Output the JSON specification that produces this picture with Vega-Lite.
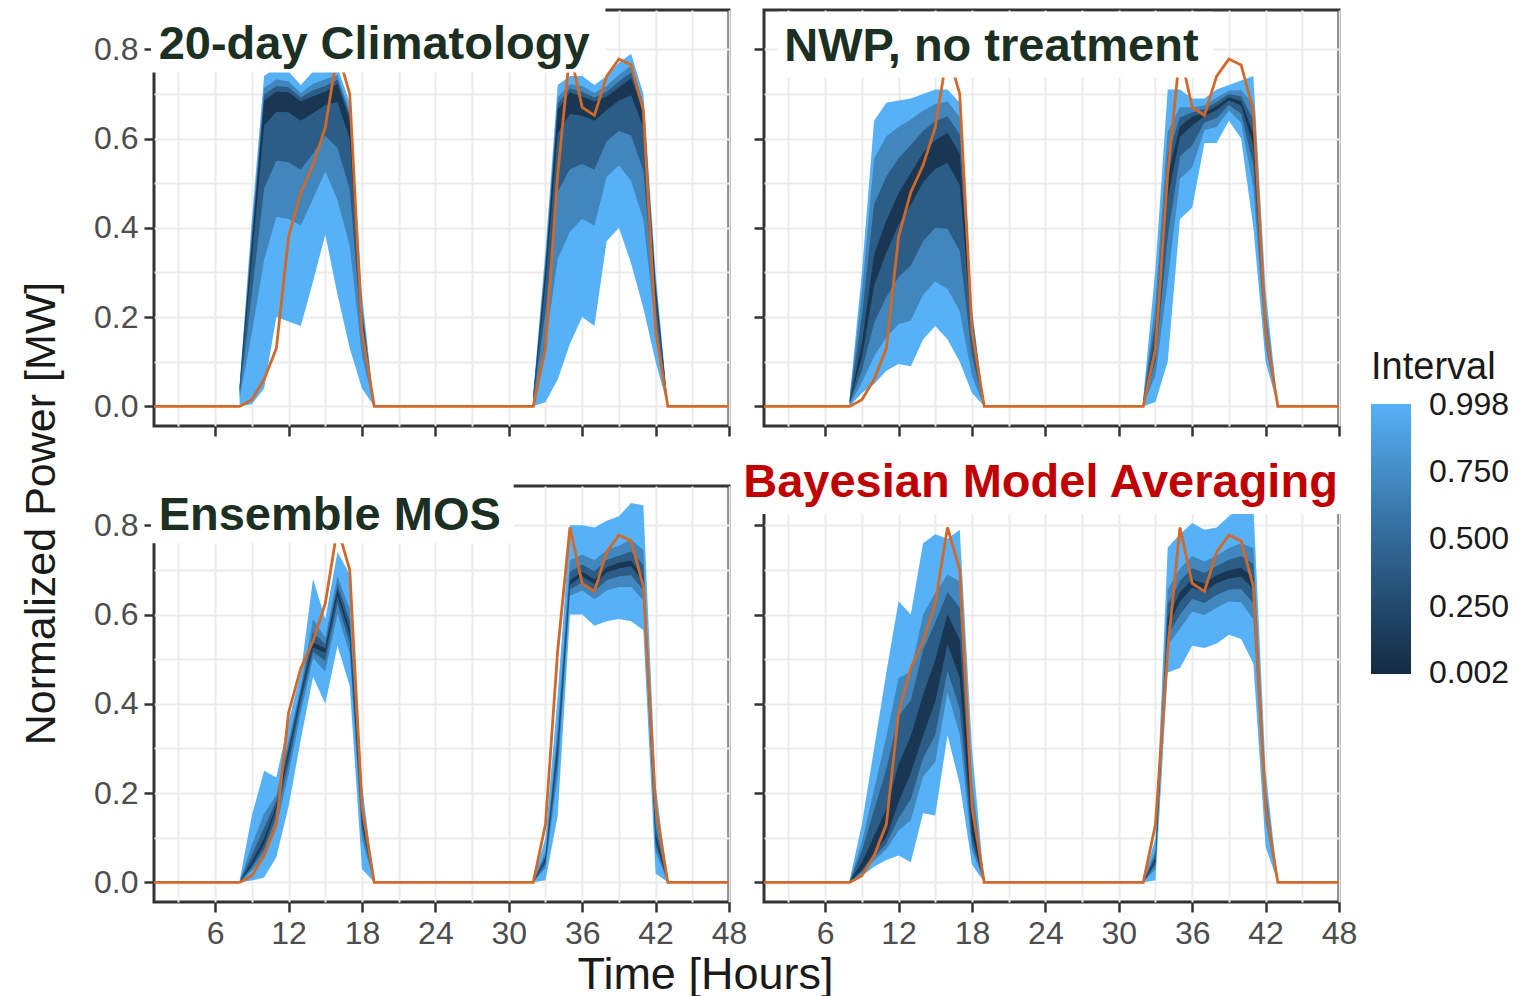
{
 "$schema": "https://vega.github.io/schema/vega-lite/v6.json",
 "background": "white",
 "padding": {"left": 18, "top": 4, "right": 5, "bottom": 5},
 "datasets": {
  "bands": [
   {"p":"A","L":0.998,"d":1,"h":[8,9,10,11,12,13,14,15,16,17,18,19],"lo":[0,0.005,0.04,0.2,0.19,0.18,0.28,0.385,0.25,0.13,0.04,0],"hi":[0.05,0.42,0.74,0.76,0.75,0.72,0.75,0.76,0.76,0.68,0.25,0]},
   {"p":"A","L":0.998,"d":2,"h":[32,33,34,35,36,37,38,39,40,41,42,43],"lo":[0,0.01,0.06,0.14,0.2,0.18,0.37,0.4,0.32,0.22,0.1,0],"hi":[0.03,0.35,0.72,0.74,0.74,0.72,0.74,0.77,0.79,0.7,0.3,0]},
   {"p":"A","L":0.7,"d":1,"h":[8,9,10,11,12,13,14,15,16,17,18,19],"lo":[0.018,0.165,0.328,0.425,0.42,0.405,0.465,0.527,0.462,0.36,0.112,0],"hi":[0.046,0.393,0.713,0.733,0.728,0.702,0.723,0.733,0.742,0.662,0.228,0]},
   {"p":"A","L":0.7,"d":2,"h":[32,33,34,35,36,37,38,39,40,41,42,43],"lo":[0.009,0.14,0.33,0.392,0.42,0.405,0.514,0.54,0.505,0.418,0.172,0],"hi":[0.026,0.328,0.693,0.722,0.718,0.702,0.718,0.743,0.763,0.682,0.282,0]},
   {"p":"A","L":0.4,"d":1,"h":[8,9,10,11,12,13,14,15,16,17,18,19],"lo":[0.028,0.253,0.488,0.55,0.547,0.53,0.567,0.606,0.579,0.487,0.152,0],"hi":[0.043,0.378,0.698,0.718,0.715,0.692,0.708,0.718,0.732,0.652,0.215,0]},
   {"p":"A","L":0.4,"d":2,"h":[32,33,34,35,36,37,38,39,40,41,42,43],"lo":[0.014,0.213,0.48,0.532,0.543,0.53,0.594,0.617,0.607,0.528,0.212,0],"hi":[0.023,0.315,0.678,0.712,0.705,0.692,0.705,0.728,0.748,0.672,0.272,0]},
   {"p":"A","L":0.1,"d":1,"h":[8,9,10,11,12,13,14,15,16,17,18,19],"lo":[0.037,0.332,0.629,0.66,0.659,0.64,0.657,0.675,0.682,0.599,0.187,0],"hi":[0.041,0.365,0.685,0.705,0.704,0.683,0.695,0.705,0.723,0.643,0.204,0]},
   {"p":"A","L":0.1,"d":2,"h":[32,33,34,35,36,37,38,39,40,41,42,43],"lo":[0.018,0.277,0.612,0.655,0.651,0.64,0.664,0.685,0.697,0.625,0.247,0],"hi":[0.021,0.304,0.665,0.703,0.694,0.683,0.694,0.715,0.735,0.663,0.263,0]},

   {"p":"B","L":0.998,"d":1,"h":[8,9,10,11,12,13,14,15,16,17,18,19],"lo":[0,0.03,0.05,0.08,0.095,0.09,0.15,0.18,0.15,0.1,0.03,0],"hi":[0.02,0.3,0.64,0.68,0.685,0.69,0.7,0.71,0.71,0.68,0.22,0]},
   {"p":"B","L":0.998,"d":2,"h":[32,33,34,35,36,37,38,39,40,41,42,43],"lo":[0,0.01,0.1,0.42,0.445,0.59,0.59,0.64,0.6,0.4,0.1,0],"hi":[0.02,0.31,0.71,0.71,0.69,0.69,0.71,0.72,0.73,0.74,0.26,0]},
   {"p":"B","L":0.7,"d":1,"h":[8,9,10,11,12,13,14,15,16,17,18,19],"lo":[0.003,0.053,0.1125,0.155,0.184,0.1925,0.25,0.28,0.263,0.213,0.068,0],"hi":[0.018,0.255,0.555,0.605,0.626,0.6425,0.6625,0.6775,0.683,0.648,0.21,0]},
   {"p":"B","L":0.7,"d":2,"h":[32,33,34,35,36,37,38,39,40,41,42,43],"lo":[0.005,0.069,0.28,0.51,0.535,0.619,0.626,0.663,0.636,0.49,0.132,0],"hi":[0.016,0.234,0.616,0.67,0.67,0.674,0.692,0.707,0.708,0.677,0.22,0]},
   {"p":"B","L":0.4,"d":1,"h":[8,9,10,11,12,13,14,15,16,17,18,19],"lo":[0.006,0.08,0.1875,0.245,0.29,0.3155,0.37,0.4,0.398,0.348,0.113,0],"hi":[0.015,0.201,0.453,0.515,0.556,0.5855,0.6175,0.6385,0.65,0.609,0.198,0]},
   {"p":"B","L":0.4,"d":2,"h":[32,33,34,35,36,37,38,39,40,41,42,43],"lo":[0.007,0.101,0.38,0.56,0.585,0.636,0.646,0.675,0.656,0.54,0.149,0],"hi":[0.013,0.191,0.563,0.647,0.659,0.666,0.682,0.699,0.695,0.642,0.197,0]},
   {"p":"B","L":0.1,"d":1,"h":[8,9,10,11,12,13,14,15,16,17,18,19],"lo":[0.009,0.109,0.27,0.344,0.407,0.451,0.502,0.532,0.546,0.496,0.162,0],"hi":[0.011,0.142,0.341,0.416,0.478,0.523,0.568,0.596,0.613,0.566,0.185,0]},
   {"p":"B","L":0.1,"d":2,"h":[32,33,34,35,36,37,38,39,40,41,42,43],"lo":[0.009,0.13,0.468,0.604,0.629,0.65,0.664,0.686,0.674,0.584,0.164,0],"hi":[0.011,0.154,0.517,0.627,0.649,0.658,0.673,0.692,0.684,0.611,0.177,0]},

   {"p":"C","L":0.998,"d":1,"h":[8,9,10,11,12,13,14,15,16,17,18,19],"lo":[0,0.004,0.011,0.056,0.17,0.32,0.46,0.4,0.53,0.44,0.03,0],"hi":[0.005,0.15,0.25,0.235,0.36,0.47,0.68,0.59,0.74,0.69,0.22,0]},
   {"p":"C","L":0.998,"d":2,"h":[32,33,34,35,36,37,38,39,40,41,42,43],"lo":[0,0.005,0.15,0.6,0.6,0.575,0.585,0.59,0.585,0.565,0.02,0],"hi":[0.005,0.1,0.42,0.8,0.8,0.795,0.81,0.82,0.85,0.845,0.22,0]},
   {"p":"C","L":0.7,"d":1,"h":[8,9,10,11,12,13,14,15,16,17,18,19],"lo":[0,0.026,0.058,0.124,0.242,0.38,0.502,0.472,0.602,0.512,0.096,0],"hi":[0.002,0.084,0.154,0.196,0.318,0.44,0.59,0.548,0.686,0.612,0.172,0]},
   {"p":"C","L":0.7,"d":2,"h":[32,33,34,35,36,37,38,39,40,41,42,43],"lo":[0,0.032,0.24,0.642,0.654,0.634,0.654,0.662,0.662,0.632,0.068,0],"hi":[0.002,0.07,0.348,0.722,0.734,0.722,0.744,0.754,0.768,0.744,0.148,0]},
   {"p":"C","L":0.4,"d":1,"h":[8,9,10,11,12,13,14,15,16,17,18,19],"lo":[0,0.033,0.074,0.147,0.266,0.4,0.516,0.496,0.626,0.536,0.118,0],"hi":[0.001,0.062,0.122,0.183,0.304,0.43,0.56,0.534,0.668,0.586,0.156,0]},
   {"p":"C","L":0.4,"d":2,"h":[32,33,34,35,36,37,38,39,40,41,42,43],"lo":[0,0.041,0.27,0.656,0.672,0.653,0.677,0.686,0.688,0.655,0.084,0],"hi":[0.001,0.06,0.324,0.696,0.712,0.697,0.722,0.732,0.741,0.711,0.124,0]},
   {"p":"C","L":0.1,"d":1,"h":[8,9,10,11,12,13,14,15,16,17,18,19],"lo":[0,0.038,0.086,0.164,0.284,0.415,0.527,0.514,0.644,0.554,0.135,0],"hi":[0.0005,0.046,0.098,0.173,0.294,0.423,0.538,0.524,0.655,0.567,0.144,0]},
   {"p":"C","L":0.1,"d":2,"h":[32,33,34,35,36,37,38,39,40,41,42,43],"lo":[0,0.048,0.293,0.667,0.686,0.668,0.694,0.704,0.708,0.671,0.096,0],"hi":[0.0005,0.053,0.306,0.677,0.696,0.679,0.706,0.716,0.721,0.685,0.106,0]},

   {"p":"D","L":0.998,"d":1,"h":[8,9,10,11,12,13,14,15,16,17,18,19],"lo":[0,0.015,0.035,0.05,0.06,0.045,0.155,0.15,0.33,0.22,0.04,0],"hi":[0.005,0.13,0.3,0.47,0.63,0.6,0.76,0.78,0.77,0.79,0.3,0]},
   {"p":"D","L":0.998,"d":2,"h":[32,33,34,35,36,37,38,39,40,41,42,43],"lo":[0,0.005,0.47,0.48,0.53,0.525,0.535,0.555,0.545,0.49,0.08,0],"hi":[0.005,0.1,0.75,0.78,0.805,0.79,0.795,0.82,0.84,0.845,0.25,0]},
   {"p":"D","L":0.7,"d":1,"h":[8,9,10,11,12,13,14,15,16,17,18,19],"lo":[0,0.021,0.049,0.074,0.116,0.139,0.237,0.27,0.426,0.332,0.072,0],"hi":[0.003,0.09,0.208,0.326,0.458,0.472,0.6,0.648,0.69,0.674,0.228,0]},
   {"p":"D","L":0.7,"d":2,"h":[32,33,34,35,36,37,38,39,40,41,42,43],"lo":[0,0.03,0.5305,0.568,0.607,0.599,0.615,0.629,0.6275,0.589,0.135,0],"hi":[0.002,0.0725,0.6565,0.703,0.731,0.719,0.732,0.749,0.76,0.749,0.2115,0]},
   {"p":"D","L":0.4,"d":1,"h":[8,9,10,11,12,13,14,15,16,17,18,19],"lo":[0,0.024,0.056,0.086,0.144,0.186,0.278,0.33,0.474,0.388,0.088,0],"hi":[0.002,0.07,0.162,0.254,0.372,0.408,0.52,0.582,0.65,0.616,0.192,0]},
   {"p":"D","L":0.4,"d":2,"h":[32,33,34,35,36,37,38,39,40,41,42,43],"lo":[0,0.039,0.5525,0.6,0.635,0.626,0.644,0.656,0.6575,0.625,0.155,0],"hi":[0.001,0.0625,0.6225,0.675,0.704,0.693,0.709,0.723,0.731,0.714,0.1975,0]},
   {"p":"D","L":0.1,"d":1,"h":[8,9,10,11,12,13,14,15,16,17,18,19],"lo":[0,0.028,0.065,0.101,0.179,0.245,0.329,0.405,0.534,0.458,0.108,0],"hi":[0.001,0.045,0.1045,0.164,0.2645,0.328,0.42,0.4995,0.6,0.5435,0.147,0]},
   {"p":"D","L":0.1,"d":2,"h":[32,33,34,35,36,37,38,39,40,41,42,43],"lo":[0,0.047,0.572,0.629,0.66,0.651,0.67,0.681,0.6845,0.657,0.173,0],"hi":[0.0004,0.0535,0.592,0.65,0.679,0.669,0.688,0.699,0.705,0.682,0.185,0]}
  ],
  "obs": [
   {"h":[1,8,9,10,11,12,13,14,15,16,17,18,19,32,33,34,35,36,37,38,39,40,41,42,43,48],"v":[0,0,0.015,0.06,0.13,0.38,0.48,0.54,0.625,0.795,0.7,0.17,0,0,0.13,0.52,0.795,0.67,0.652,0.74,0.778,0.765,0.663,0.17,0,0]}
  ],
  "one": [{}]
 },
 "columns": 2,
 "spacing": {"row": 60, "column": 35},
 "bounds": "flush",
 "concat": [
  {
   "width": 575, "height": 416,
   "layer": [
    {"data": {"name": "bands"},
     "transform": [{"filter": "datum.p === 'A'"}, {"flatten": ["h", "lo", "hi"]}],
     "mark": {"type": "area", "clip": true},
     "encoding": {
      "x": {"field": "h", "type": "quantitative", "scale": {"domain": [1, 48], "nice": false, "zero": false},
            "axis": {"orient": "bottom", "values": [3,6,9,12,15,18,21,24,27,30,33,36,39,42,45,48], "labels": false, "title": null, "tickOpacity": {"condition": {"test": "datum.value % 6 === 0", "value": 1}, "value": 0}}},
      "y": {"field": "lo", "type": "quantitative", "scale": {"domain": [-0.044, 0.888], "nice": false, "zero": false},
            "axis": {"orient": "left", "values": [0,0.1,0.2,0.3,0.4,0.5,0.6,0.7,0.8], "labelExpr": "round(datum.value*10) % 2 === 0 ? format(datum.value, '.1f') : ''", "tickOpacity": {"condition": {"test": "round(datum.value*10) % 2 === 0", "value": 1}, "value": 0}, "title": "Normalized Power [MW]", "titleFontSize": 43, "titleX": -113, "titleY": 503, "titleAlign": "center", "titleBaseline": "middle"}},
      "y2": {"field": "hi"},
      "color": {"field": "L", "type": "quantitative", "scale": {"domain": [0, 1], "range": ["#132B43", "#56B1F7"], "interpolate": "lab"},
                "legend": {"title": "Interval", "orient": "none", "legendX": 1217, "legendY": 339, "direction": "vertical", "gradientLength": 270, "gradientThickness": 40, "values": [0.002, 0.25, 0.5, 0.75, 0.998], "format": ".3f", "titleFontSize": 38, "titleFontWeight": "normal", "titleColor": "#1a1a1a", "titlePadding": 17, "labelFontSize": 32, "labelColor": "#1a1a1a", "labelOffset": 18, "labelOverlap": false, "gradientStrokeWidth": 0}},
      "detail": [{"field": "L", "type": "quantitative"}, {"field": "d", "type": "nominal"}]
     }},
    {"data": {"name": "obs"},
     "transform": [{"flatten": ["h", "v"]}],
     "mark": {"type": "line", "color": "#d0692a", "strokeWidth": 2.8, "clip": true},
     "encoding": {
      "x": {"field": "h", "type": "quantitative", "scale": {"domain": [1, 48], "nice": false, "zero": false},
            "axis": {"orient": "bottom", "values": [3,6,9,12,15,18,21,24,27,30,33,36,39,42,45,48], "labels": false, "title": null, "tickOpacity": {"condition": {"test": "datum.value % 6 === 0", "value": 1}, "value": 0}}},
      "y": {"field": "v", "type": "quantitative", "scale": {"domain": [-0.044, 0.888], "nice": false, "zero": false},
            "axis": {"orient": "left", "values": [0,0.1,0.2,0.3,0.4,0.5,0.6,0.7,0.8], "labelExpr": "round(datum.value*10) % 2 === 0 ? format(datum.value, '.1f') : ''", "tickOpacity": {"condition": {"test": "round(datum.value*10) % 2 === 0", "value": 1}, "value": 0}, "title": "Normalized Power [MW]", "titleFontSize": 43, "titleX": -113, "titleY": 503, "titleAlign": "center", "titleBaseline": "middle"}}
     }},
    {"data": {"name": "one"},
     "mark": {"type": "rect", "color": "white"},
     "encoding": {
      "x": {"datum": 0.75, "type": "quantitative", "scale": {"domain": [1, 48], "nice": false, "zero": false},
            "axis": {"orient": "bottom", "values": [3,6,9,12,15,18,21,24,27,30,33,36,39,42,45,48], "labels": false, "title": null, "tickOpacity": {"condition": {"test": "datum.value % 6 === 0", "value": 1}, "value": 0}}},
      "x2": {"datum": 37.9},
      "y": {"datum": 0.748, "type": "quantitative", "scale": {"domain": [-0.044, 0.888], "nice": false, "zero": false},
            "axis": {"orient": "left", "values": [0,0.1,0.2,0.3,0.4,0.5,0.6,0.7,0.8], "labelExpr": "round(datum.value*10) % 2 === 0 ? format(datum.value, '.1f') : ''", "tickOpacity": {"condition": {"test": "round(datum.value*10) % 2 === 0", "value": 1}, "value": 0}, "title": "Normalized Power [MW]", "titleFontSize": 43, "titleX": -113, "titleY": 503, "titleAlign": "center", "titleBaseline": "middle"}},
      "y2": {"datum": 0.898}
     }},
    {"data": {"name": "one"},
     "mark": {"type": "text", "text": "20-day Climatology", "align": "left", "baseline": "alphabetic", "font": "Liberation Sans", "fontSize": 47, "fontWeight": "bold", "color": "#1b2f22"},
     "encoding": {
      "x": {"datum": 1.38, "type": "quantitative", "scale": {"domain": [1, 48], "nice": false, "zero": false},
            "axis": {"orient": "bottom", "values": [3,6,9,12,15,18,21,24,27,30,33,36,39,42,45,48], "labels": false, "title": null, "tickOpacity": {"condition": {"test": "datum.value % 6 === 0", "value": 1}, "value": 0}}},
      "y": {"datum": 0.778, "type": "quantitative", "scale": {"domain": [-0.044, 0.888], "nice": false, "zero": false},
            "axis": {"orient": "left", "values": [0,0.1,0.2,0.3,0.4,0.5,0.6,0.7,0.8], "labelExpr": "round(datum.value*10) % 2 === 0 ? format(datum.value, '.1f') : ''", "tickOpacity": {"condition": {"test": "round(datum.value*10) % 2 === 0", "value": 1}, "value": 0}, "title": "Normalized Power [MW]", "titleFontSize": 43, "titleX": -113, "titleY": 503, "titleAlign": "center", "titleBaseline": "middle"}}
     }}
   ]
  },
  {
   "width": 575, "height": 416,
   "layer": [
    {"data": {"name": "bands"},
     "transform": [{"filter": "datum.p === 'B'"}, {"flatten": ["h", "lo", "hi"]}],
     "mark": {"type": "area", "clip": true},
     "encoding": {
      "x": {"field": "h", "type": "quantitative", "scale": {"domain": [1, 48], "nice": false, "zero": false},
            "axis": {"orient": "bottom", "values": [3,6,9,12,15,18,21,24,27,30,33,36,39,42,45,48], "labels": false, "title": null, "tickOpacity": {"condition": {"test": "datum.value % 6 === 0", "value": 1}, "value": 0}}},
      "y": {"field": "lo", "type": "quantitative", "scale": {"domain": [-0.044, 0.888], "nice": false, "zero": false},
            "axis": {"orient": "left", "values": [0,0.1,0.2,0.3,0.4,0.5,0.6,0.7,0.8], "labels": false, "title": null, "tickOpacity": {"condition": {"test": "round(datum.value*10) % 2 === 0", "value": 1}, "value": 0}}},
      "y2": {"field": "hi"},
      "color": {"field": "L", "type": "quantitative", "scale": {"domain": [0, 1], "range": ["#132B43", "#56B1F7"], "interpolate": "lab"},
                "legend": {"title": "Interval", "orient": "none", "legendX": 1217, "legendY": 339, "direction": "vertical", "gradientLength": 270, "gradientThickness": 40, "values": [0.002, 0.25, 0.5, 0.75, 0.998], "format": ".3f", "titleFontSize": 38, "titleFontWeight": "normal", "titleColor": "#1a1a1a", "titlePadding": 17, "labelFontSize": 32, "labelColor": "#1a1a1a", "labelOffset": 18, "labelOverlap": false, "gradientStrokeWidth": 0}},
      "detail": [{"field": "L", "type": "quantitative"}, {"field": "d", "type": "nominal"}]
     }},
    {"data": {"name": "obs"},
     "transform": [{"flatten": ["h", "v"]}],
     "mark": {"type": "line", "color": "#d0692a", "strokeWidth": 2.8, "clip": true},
     "encoding": {
      "x": {"field": "h", "type": "quantitative", "scale": {"domain": [1, 48], "nice": false, "zero": false},
            "axis": {"orient": "bottom", "values": [3,6,9,12,15,18,21,24,27,30,33,36,39,42,45,48], "labels": false, "title": null, "tickOpacity": {"condition": {"test": "datum.value % 6 === 0", "value": 1}, "value": 0}}},
      "y": {"field": "v", "type": "quantitative", "scale": {"domain": [-0.044, 0.888], "nice": false, "zero": false},
            "axis": {"orient": "left", "values": [0,0.1,0.2,0.3,0.4,0.5,0.6,0.7,0.8], "labels": false, "title": null, "tickOpacity": {"condition": {"test": "round(datum.value*10) % 2 === 0", "value": 1}, "value": 0}}}
     }},
    {"data": {"name": "one"},
     "mark": {"type": "rect", "color": "white"},
     "encoding": {
      "x": {"datum": 2.15, "type": "quantitative", "scale": {"domain": [1, 48], "nice": false, "zero": false},
            "axis": {"orient": "bottom", "values": [3,6,9,12,15,18,21,24,27,30,33,36,39,42,45,48], "labels": false, "title": null, "tickOpacity": {"condition": {"test": "datum.value % 6 === 0", "value": 1}, "value": 0}}},
      "x2": {"datum": 37.7},
      "y": {"datum": 0.737, "type": "quantitative", "scale": {"domain": [-0.044, 0.888], "nice": false, "zero": false},
            "axis": {"orient": "left", "values": [0,0.1,0.2,0.3,0.4,0.5,0.6,0.7,0.8], "labels": false, "title": null, "tickOpacity": {"condition": {"test": "round(datum.value*10) % 2 === 0", "value": 1}, "value": 0}}},
      "y2": {"datum": 0.884}
     }},
    {"data": {"name": "one"},
     "mark": {"type": "text", "text": "NWP, no treatment", "align": "left", "baseline": "alphabetic", "font": "Liberation Sans", "fontSize": 47, "fontWeight": "bold", "color": "#1b2f22"},
     "encoding": {
      "x": {"datum": 2.65, "type": "quantitative", "scale": {"domain": [1, 48], "nice": false, "zero": false},
            "axis": {"orient": "bottom", "values": [3,6,9,12,15,18,21,24,27,30,33,36,39,42,45,48], "labels": false, "title": null, "tickOpacity": {"condition": {"test": "datum.value % 6 === 0", "value": 1}, "value": 0}}},
      "y": {"datum": 0.774, "type": "quantitative", "scale": {"domain": [-0.044, 0.888], "nice": false, "zero": false},
            "axis": {"orient": "left", "values": [0,0.1,0.2,0.3,0.4,0.5,0.6,0.7,0.8], "labels": false, "title": null, "tickOpacity": {"condition": {"test": "round(datum.value*10) % 2 === 0", "value": 1}, "value": 0}}}
     }}
   ]
  },
  {
   "width": 575, "height": 416,
   "layer": [
    {"data": {"name": "bands"},
     "transform": [{"filter": "datum.p === 'C'"}, {"flatten": ["h", "lo", "hi"]}],
     "mark": {"type": "area", "clip": true},
     "encoding": {
      "x": {"field": "h", "type": "quantitative", "scale": {"domain": [1, 48], "nice": false, "zero": false},
            "axis": {"orient": "bottom", "values": [3,6,9,12,15,18,21,24,27,30,33,36,39,42,45,48], "labelExpr": "datum.value % 6 === 0 ? format(datum.value, 'd') : ''", "tickOpacity": {"condition": {"test": "datum.value % 6 === 0", "value": 1}, "value": 0}, "title": "Time [Hours]", "titleFontSize": 45, "titleX": 551, "titleY": 86, "titleAlign": "center", "titleBaseline": "alphabetic"}},
      "y": {"field": "lo", "type": "quantitative", "scale": {"domain": [-0.044, 0.888], "nice": false, "zero": false},
            "axis": {"orient": "left", "values": [0,0.1,0.2,0.3,0.4,0.5,0.6,0.7,0.8], "labelExpr": "round(datum.value*10) % 2 === 0 ? format(datum.value, '.1f') : ''", "tickOpacity": {"condition": {"test": "round(datum.value*10) % 2 === 0", "value": 1}, "value": 0}, "title": null}},
      "y2": {"field": "hi"},
      "color": {"field": "L", "type": "quantitative", "scale": {"domain": [0, 1], "range": ["#132B43", "#56B1F7"], "interpolate": "lab"},
                "legend": {"title": "Interval", "orient": "none", "legendX": 1217, "legendY": 339, "direction": "vertical", "gradientLength": 270, "gradientThickness": 40, "values": [0.002, 0.25, 0.5, 0.75, 0.998], "format": ".3f", "titleFontSize": 38, "titleFontWeight": "normal", "titleColor": "#1a1a1a", "titlePadding": 17, "labelFontSize": 32, "labelColor": "#1a1a1a", "labelOffset": 18, "labelOverlap": false, "gradientStrokeWidth": 0}},
      "detail": [{"field": "L", "type": "quantitative"}, {"field": "d", "type": "nominal"}]
     }},
    {"data": {"name": "obs"},
     "transform": [{"flatten": ["h", "v"]}],
     "mark": {"type": "line", "color": "#d0692a", "strokeWidth": 2.8, "clip": true},
     "encoding": {
      "x": {"field": "h", "type": "quantitative", "scale": {"domain": [1, 48], "nice": false, "zero": false},
            "axis": {"orient": "bottom", "values": [3,6,9,12,15,18,21,24,27,30,33,36,39,42,45,48], "labelExpr": "datum.value % 6 === 0 ? format(datum.value, 'd') : ''", "tickOpacity": {"condition": {"test": "datum.value % 6 === 0", "value": 1}, "value": 0}, "title": "Time [Hours]", "titleFontSize": 45, "titleX": 551, "titleY": 86, "titleAlign": "center", "titleBaseline": "alphabetic"}},
      "y": {"field": "v", "type": "quantitative", "scale": {"domain": [-0.044, 0.888], "nice": false, "zero": false},
            "axis": {"orient": "left", "values": [0,0.1,0.2,0.3,0.4,0.5,0.6,0.7,0.8], "labelExpr": "round(datum.value*10) % 2 === 0 ? format(datum.value, '.1f') : ''", "tickOpacity": {"condition": {"test": "round(datum.value*10) % 2 === 0", "value": 1}, "value": 0}, "title": null}}
     }},
    {"data": {"name": "one"},
     "mark": {"type": "rect", "color": "white"},
     "encoding": {
      "x": {"datum": 0.75, "type": "quantitative", "scale": {"domain": [1, 48], "nice": false, "zero": false},
            "axis": {"orient": "bottom", "values": [3,6,9,12,15,18,21,24,27,30,33,36,39,42,45,48], "labelExpr": "datum.value % 6 === 0 ? format(datum.value, 'd') : ''", "tickOpacity": {"condition": {"test": "datum.value % 6 === 0", "value": 1}, "value": 0}, "title": "Time [Hours]", "titleFontSize": 45, "titleX": 551, "titleY": 86, "titleAlign": "center", "titleBaseline": "alphabetic"}},
      "x2": {"datum": 30.4},
      "y": {"datum": 0.76, "type": "quantitative", "scale": {"domain": [-0.044, 0.888], "nice": false, "zero": false},
            "axis": {"orient": "left", "values": [0,0.1,0.2,0.3,0.4,0.5,0.6,0.7,0.8], "labelExpr": "round(datum.value*10) % 2 === 0 ? format(datum.value, '.1f') : ''", "tickOpacity": {"condition": {"test": "round(datum.value*10) % 2 === 0", "value": 1}, "value": 0}, "title": null}},
      "y2": {"datum": 0.898}
     }},
    {"data": {"name": "one"},
     "mark": {"type": "text", "text": "Ensemble MOS", "align": "left", "baseline": "alphabetic", "font": "Liberation Sans", "fontSize": 47, "fontWeight": "bold", "color": "#1b2f22"},
     "encoding": {
      "x": {"datum": 1.38, "type": "quantitative", "scale": {"domain": [1, 48], "nice": false, "zero": false},
            "axis": {"orient": "bottom", "values": [3,6,9,12,15,18,21,24,27,30,33,36,39,42,45,48], "labelExpr": "datum.value % 6 === 0 ? format(datum.value, 'd') : ''", "tickOpacity": {"condition": {"test": "datum.value % 6 === 0", "value": 1}, "value": 0}, "title": "Time [Hours]", "titleFontSize": 45, "titleX": 551, "titleY": 86, "titleAlign": "center", "titleBaseline": "alphabetic"}},
      "y": {"datum": 0.79, "type": "quantitative", "scale": {"domain": [-0.044, 0.888], "nice": false, "zero": false},
            "axis": {"orient": "left", "values": [0,0.1,0.2,0.3,0.4,0.5,0.6,0.7,0.8], "labelExpr": "round(datum.value*10) % 2 === 0 ? format(datum.value, '.1f') : ''", "tickOpacity": {"condition": {"test": "round(datum.value*10) % 2 === 0", "value": 1}, "value": 0}, "title": null}}
     }}
   ]
  },
  {
   "width": 575, "height": 416,
   "layer": [
    {"data": {"name": "bands"},
     "transform": [{"filter": "datum.p === 'D'"}, {"flatten": ["h", "lo", "hi"]}],
     "mark": {"type": "area", "clip": true},
     "encoding": {
      "x": {"field": "h", "type": "quantitative", "scale": {"domain": [1, 48], "nice": false, "zero": false},
            "axis": {"orient": "bottom", "values": [3,6,9,12,15,18,21,24,27,30,33,36,39,42,45,48], "labelExpr": "datum.value % 6 === 0 ? format(datum.value, 'd') : ''", "tickOpacity": {"condition": {"test": "datum.value % 6 === 0", "value": 1}, "value": 0}, "title": null}},
      "y": {"field": "lo", "type": "quantitative", "scale": {"domain": [-0.044, 0.888], "nice": false, "zero": false},
            "axis": {"orient": "left", "values": [0,0.1,0.2,0.3,0.4,0.5,0.6,0.7,0.8], "labels": false, "title": null, "tickOpacity": {"condition": {"test": "round(datum.value*10) % 2 === 0", "value": 1}, "value": 0}}},
      "y2": {"field": "hi"},
      "color": {"field": "L", "type": "quantitative", "scale": {"domain": [0, 1], "range": ["#132B43", "#56B1F7"], "interpolate": "lab"},
                "legend": {"title": "Interval", "orient": "none", "legendX": 1217, "legendY": 339, "direction": "vertical", "gradientLength": 270, "gradientThickness": 40, "values": [0.002, 0.25, 0.5, 0.75, 0.998], "format": ".3f", "titleFontSize": 38, "titleFontWeight": "normal", "titleColor": "#1a1a1a", "titlePadding": 17, "labelFontSize": 32, "labelColor": "#1a1a1a", "labelOffset": 18, "labelOverlap": false, "gradientStrokeWidth": 0}},
      "detail": [{"field": "L", "type": "quantitative"}, {"field": "d", "type": "nominal"}]
     }},
    {"data": {"name": "obs"},
     "transform": [{"flatten": ["h", "v"]}],
     "mark": {"type": "line", "color": "#d0692a", "strokeWidth": 2.8, "clip": true},
     "encoding": {
      "x": {"field": "h", "type": "quantitative", "scale": {"domain": [1, 48], "nice": false, "zero": false},
            "axis": {"orient": "bottom", "values": [3,6,9,12,15,18,21,24,27,30,33,36,39,42,45,48], "labelExpr": "datum.value % 6 === 0 ? format(datum.value, 'd') : ''", "tickOpacity": {"condition": {"test": "datum.value % 6 === 0", "value": 1}, "value": 0}, "title": null}},
      "y": {"field": "v", "type": "quantitative", "scale": {"domain": [-0.044, 0.888], "nice": false, "zero": false},
            "axis": {"orient": "left", "values": [0,0.1,0.2,0.3,0.4,0.5,0.6,0.7,0.8], "labels": false, "title": null, "tickOpacity": {"condition": {"test": "round(datum.value*10) % 2 === 0", "value": 1}, "value": 0}}}
     }},
    {"data": {"name": "one"},
     "mark": {"type": "rect", "color": "white"},
     "encoding": {
      "x": {"datum": 0.4, "type": "quantitative", "scale": {"domain": [1, 48], "nice": false, "zero": false},
            "axis": {"orient": "bottom", "values": [3,6,9,12,15,18,21,24,27,30,33,36,39,42,45,48], "labelExpr": "datum.value % 6 === 0 ? format(datum.value, 'd') : ''", "tickOpacity": {"condition": {"test": "datum.value % 6 === 0", "value": 1}, "value": 0}, "title": null}},
      "x2": {"datum": 48.6},
      "y": {"datum": 0.825, "type": "quantitative", "scale": {"domain": [-0.044, 0.888], "nice": false, "zero": false},
            "axis": {"orient": "left", "values": [0,0.1,0.2,0.3,0.4,0.5,0.6,0.7,0.8], "labels": false, "title": null, "tickOpacity": {"condition": {"test": "round(datum.value*10) % 2 === 0", "value": 1}, "value": 0}}},
      "y2": {"datum": 0.9}
     }},
    {"data": {"name": "one"},
     "mark": {"type": "text", "text": "Bayesian Model Averaging", "align": "left", "baseline": "alphabetic", "font": "Liberation Sans", "fontSize": 47, "fontWeight": "bold", "color": "#c00000"},
     "encoding": {
      "x": {"datum": -0.7, "type": "quantitative", "scale": {"domain": [1, 48], "nice": false, "zero": false},
            "axis": {"orient": "bottom", "values": [3,6,9,12,15,18,21,24,27,30,33,36,39,42,45,48], "labelExpr": "datum.value % 6 === 0 ? format(datum.value, 'd') : ''", "tickOpacity": {"condition": {"test": "datum.value % 6 === 0", "value": 1}, "value": 0}, "title": null}},
      "y": {"datum": 0.863, "type": "quantitative", "scale": {"domain": [-0.044, 0.888], "nice": false, "zero": false},
            "axis": {"orient": "left", "values": [0,0.1,0.2,0.3,0.4,0.5,0.6,0.7,0.8], "labels": false, "title": null, "tickOpacity": {"condition": {"test": "round(datum.value*10) % 2 === 0", "value": 1}, "value": 0}}}
     }}
   ]
  }
 ],
 "resolve": {"scale": {"color": "shared"}, "legend": {"color": "shared"}},
 "config": {
  "font": "Liberation Sans",
  "view": {"stroke": "#333333", "strokeWidth": 3},
  "axis": {"domain": false, "grid": true, "gridColor": "#ebebeb", "gridWidth": 2, "tickColor": "#333333", "tickWidth": 2.5, "tickSize": 10,
           "labelFont": "Liberation Sans", "labelFontSize": 32, "labelColor": "#4d4d4d", "labelPadding": 6, "labelFlush": false, "labelOverlap": false,
           "titleFont": "Liberation Sans", "titleFontWeight": "normal", "titleColor": "#1a1a1a"},
  "legend": {"titleFont": "Liberation Sans", "labelFont": "Liberation Sans", "padding": 0}
 }
}
